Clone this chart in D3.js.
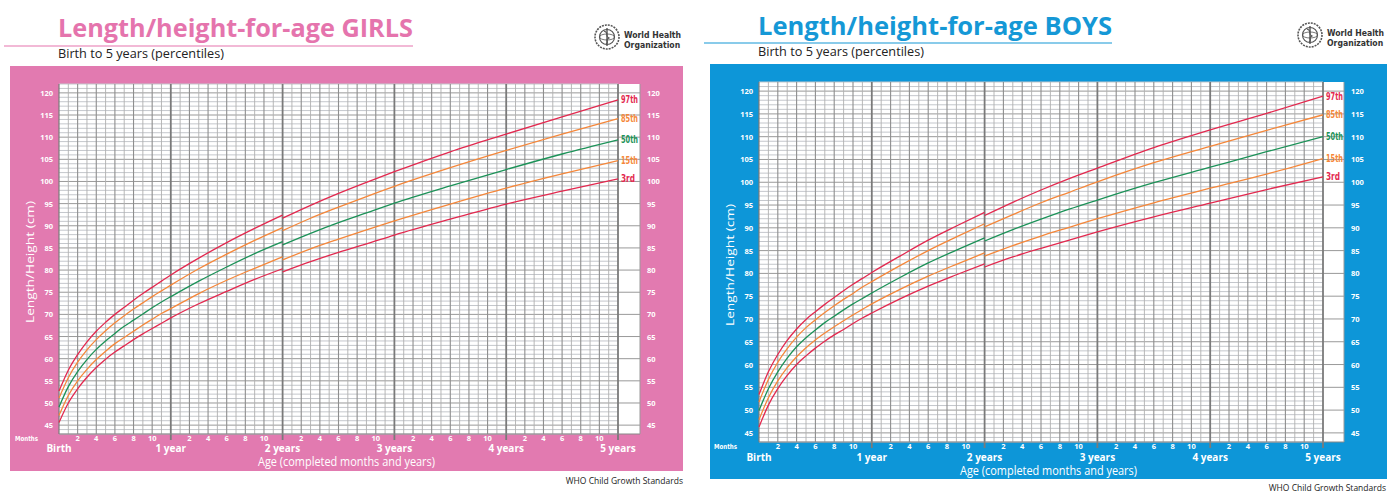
<!DOCTYPE html>
<html>
<head>
<meta charset="utf-8">
<title>Length/height-for-age</title>
<script src="https://d3js.org/d3.v7.min.js"></script>
<style>
  body { margin: 0; background: #fff; }
  svg { display: block; }
  text { font-family: "Open Sans", "Noto Sans", sans-serif; }
  .cond { font-family: "DejaVu Sans Condensed", "Liberation Sans Narrow", sans-serif; }
</style>
</head>
<body>
<div id="chart"></div>
<script>
// percentile names and year labels
const percentiles = ["3rd", "15th", "50th", "85th", "97th"];
const yearLabels = ["Birth", "1 year", "2 years", "3 years", "4 years", "5 years"];
const monthTicks = [2, 4, 6, 8, 10];
const cmTicks = [45, 50, 55, 60, 65, 70, 75, 80, 85, 90, 95, 100, 105, 110, 115, 120];

// ages (months): length 0-24, height 24-60
const lengthMonths = [0, 1, 2, 3, 4, 5, 6, 7, 8, 9, 10, 11, 12, 15, 18, 21, 24];
const heightMonths = [24, 27, 30, 33, 36, 42, 48, 54, 60];

// girls, columns = 3rd, 15th, 50th, 85th, 97th
const girlsLength = [
  [45.6, 47.2, 49.1, 51.1, 52.7], [50.0, 51.7, 53.7, 55.7, 57.4], [53.2, 55.0, 57.1, 59.2, 60.9],
  [55.8, 57.6, 59.8, 62.0, 63.8], [58.0, 59.8, 62.1, 64.3, 66.2], [59.9, 61.7, 64.0, 66.3, 68.2],
  [61.5, 63.4, 65.7, 68.1, 70.0], [62.9, 64.8, 67.3, 69.7, 71.6], [64.3, 66.2, 68.7, 71.2, 73.2],
  [65.6, 67.6, 70.1, 72.6, 74.7], [66.8, 68.9, 71.5, 74.0, 76.1], [68.0, 70.2, 72.8, 75.3, 77.5],
  [69.2, 71.3, 74.0, 76.6, 78.9], [72.4, 74.7, 77.5, 80.3, 82.7], [75.2, 77.7, 80.7, 83.6, 86.2],
  [77.9, 80.4, 83.7, 86.7, 89.4], [80.3, 83.0, 86.4, 89.6, 92.4]
];
const girlsHeight = [
  [79.6, 82.3, 85.7, 88.9, 91.7], [81.9, 84.8, 88.3, 91.7, 94.6], [84.0, 87.0, 90.7, 94.2, 97.3],
  [85.9, 89.1, 92.9, 96.6, 99.8], [87.9, 91.1, 95.1, 98.9, 102.2], [91.5, 94.9, 99.0, 103.1, 106.7],
  [94.9, 98.5, 102.7, 107.0, 110.7], [97.8, 101.7, 106.2, 110.7, 114.6], [100.6, 104.7, 109.4, 114.2, 118.4]
];

// boys
const boysLength = [
  [46.3, 47.9, 49.9, 51.8, 53.4], [51.1, 52.7, 54.7, 56.7, 58.4], [54.7, 56.4, 58.4, 60.5, 62.2],
  [57.6, 59.3, 61.4, 63.5, 65.3], [60.0, 61.7, 63.9, 66.0, 67.8], [61.9, 63.7, 65.9, 68.1, 69.9],
  [63.6, 65.4, 67.6, 69.8, 71.6], [65.1, 66.9, 69.2, 71.4, 73.2], [66.5, 68.3, 70.6, 72.9, 74.7],
  [67.7, 69.6, 72.0, 74.3, 76.2], [69.0, 70.9, 73.3, 75.6, 77.6], [70.2, 72.1, 74.5, 77.0, 78.9],
  [71.3, 73.3, 75.7, 78.2, 80.2], [74.4, 76.5, 79.1, 81.7, 83.8], [77.2, 79.4, 82.3, 85.0, 87.3],
  [79.7, 82.0, 85.1, 88.0, 90.4], [82.1, 84.5, 87.8, 90.9, 93.4]
];
const boysHeight = [
  [81.4, 83.8, 87.1, 90.2, 92.7], [83.6, 86.1, 89.6, 92.9, 95.6], [85.5, 88.2, 91.9, 95.5, 98.3],
  [87.3, 90.1, 94.1, 97.8, 100.8], [89.1, 92.0, 96.1, 100.1, 103.1], [92.4, 95.5, 99.9, 104.3, 107.6],
  [95.4, 98.7, 103.3, 107.9, 111.5], [98.4, 101.8, 106.7, 111.4, 115.1], [101.2, 105.2, 110.0, 114.8, 118.9]
];

const lineColors = ["#e3294f", "#f5873a", "#1c9258", "#f5873a", "#e3294f"];

const W = 1387, H = 493;
const svg = d3.select("#chart").append("svg").attr("width", W).attr("height", H);

const panels = [
  { title: "Length/height-for-age GIRLS", titleColor: "#e574ad", bg: "#e27ab0",
    lengthData: girlsLength, heightData: girlsHeight,
    band: [10, 66, 673, 405], plot: { x0: 59, x1: 618, xw: 640, y0: 84, y1: 434 },
    titleX: 58, titleY: 37, titleW: 355, ruleY: 46, ruleX: [4, 413], subY: 58,
    logo: [607, 37], monthY: 441, yearY: 452, ageY: 466, ageX: 258, yTitleX: 30,
    footer: [683, 484], monthsX: 15 },
  { title: "Length/height-for-age BOYS", titleColor: "#1598d6", bg: "#0d96d8",
    lengthData: boysLength, heightData: boysHeight,
    band: [710, 64, 677, 415], plot: { x0: 759, x1: 1323, xw: 1344, y0: 82, y1: 442 },
    titleX: 758, titleY: 35, titleW: 354, ruleY: 43, ruleX: [704, 1112], subY: 56,
    logo: [1310, 35], monthY: 449, yearY: 461, ageY: 475, ageX: 960, yTitleX: 730,
    footer: [1386, 491], monthsX: 714 }
];

panels.forEach(drawPanel);

function drawPanel(p) {
  const g = svg.append("g");
  const P = p.plot;
  const x = d3.scaleLinear().domain([0, 60]).range([P.x0, P.x1]);
  const y = d3.scaleLinear().domain([43, 122]).range([P.y1, P.y0]);

  // header
  g.append("text").attr("x", p.titleX).attr("y", p.titleY)
    .attr("font-size", 25).attr("font-weight", 700).attr("fill", p.titleColor)
    .attr("textLength", p.titleW).attr("lengthAdjust", "spacingAndGlyphs")
    .text(p.title);
  g.append("line").attr("x1", p.ruleX[0]).attr("x2", p.ruleX[1])
    .attr("y1", p.ruleY).attr("y2", p.ruleY)
    .attr("stroke", p.titleColor).attr("stroke-width", 1.2);
  g.append("text").attr("x", p.titleX).attr("y", p.subY)
    .attr("font-size", 12.5).attr("fill", "#222")
    .attr("textLength", 166).attr("lengthAdjust", "spacingAndGlyphs")
    .text("Birth to 5 years (percentiles)");

  // WHO emblem (simplified)
  const lg = g.append("g").attr("transform", `translate(${p.logo[0]},${p.logo[1]})`)
    .attr("fill", "none").attr("stroke", "#555");
  lg.append("circle").attr("r", 12).attr("stroke-width", 1.6).attr("stroke-dasharray", "2 1");
  lg.append("circle").attr("r", 7.5).attr("stroke-width", 1.2);
  lg.append("ellipse").attr("rx", 7.5).attr("ry", 3).attr("stroke-width", 0.8);
  lg.append("line").attr("y1", -9).attr("y2", 9).attr("stroke-width", 1.4);
  lg.append("path").attr("d", "M-3,-6 C3,-4 -3,-1 2,1 C-3,3 3,5 -1,7").attr("stroke-width", 1.1);
  g.append("text").attr("class", "cond").attr("x", p.logo[0] + 17).attr("y", p.logo[1] + 1)
    .attr("font-size", 8.6).attr("font-weight", 700).attr("fill", "#333").text("World Health");
  g.append("text").attr("class", "cond").attr("x", p.logo[0] + 17).attr("y", p.logo[1] + 11)
    .attr("font-size", 8.6).attr("font-weight", 700).attr("fill", "#333").text("Organization");

  // coloured band
  g.append("rect").attr("x", p.band[0]).attr("y", p.band[1])
    .attr("width", p.band[2]).attr("height", p.band[3]).attr("fill", p.bg);

  // white plot + label column
  g.append("rect").attr("x", P.x0).attr("y", P.y0)
    .attr("width", P.xw - P.x0).attr("height", P.y1 - P.y0).attr("fill", "#fff");

  // grid: cm lines
  const cms = d3.range(43, 123);
  g.append("g").selectAll("line").data(cms.filter(c => c % 5 !== 0)).join("line")
    .attr("x1", P.x0).attr("x2", P.x1).attr("y1", d => y(d)).attr("y2", d => y(d))
    .attr("stroke", "#c4c7cc").attr("stroke-width", 1);
  g.append("g").selectAll("line").data(cms.filter(c => c % 5 === 0)).join("line")
    .attr("x1", P.x0).attr("x2", P.xw).attr("y1", d => y(d)).attr("y2", d => y(d))
    .attr("stroke", "#999").attr("stroke-width", 1);

  // grid: month lines
  const months = d3.range(1, 60).filter(m => m % 12 !== 0);
  g.append("g").selectAll("line").data(months).join("line")
    .attr("x1", d => x(d)).attr("x2", d => x(d)).attr("y1", P.y0).attr("y2", P.y1)
    .attr("stroke", d => d % 2 === 0 ? "#8e8e8e" : "#b0b0b0")
    .attr("stroke-width", d => d % 2 === 0 ? 1.1 : 0.9);
  // year lines with ticks below
  g.append("g").selectAll("line").data([12, 24, 36, 48, 60]).join("line")
    .attr("x1", d => x(d)).attr("x2", d => x(d)).attr("y1", P.y0).attr("y2", P.y1 + 6)
    .attr("stroke", "#7a7a7a").attr("stroke-width", 1.8);
  g.append("line").attr("x1", P.x0).attr("x2", P.x0).attr("y1", P.y0).attr("y2", P.y1)
    .attr("stroke", "#7a7a7a").attr("stroke-width", 1.2);
  g.append("line").attr("x1", P.x0).attr("x2", P.xw).attr("y1", P.y1).attr("y2", P.y1)
    .attr("stroke", "#888").attr("stroke-width", 1.2);
  g.append("line").attr("x1", P.xw).attr("x2", P.xw).attr("y1", P.y0).attr("y2", P.y1)
    .attr("stroke", "#999").attr("stroke-width", 1);

  // curves
  const line = d3.line().curve(d3.curveMonotoneX);
  percentiles.forEach((name, k) => {
    const seg1 = lengthMonths.map((m, i) => [x(m), y(p.lengthData[i][k])]);
    const seg2 = heightMonths.map((m, i) => [x(m), y(p.heightData[i][k])]);
    [seg1, seg2].forEach(seg => {
      g.append("path").attr("d", line(seg)).attr("fill", "none")
        .attr("stroke", lineColors[k]).attr("stroke-width", 1.3);
    });
    const last = p.heightData[p.heightData.length - 1][k];
    g.append("text").attr("class", "cond").attr("x", P.x1 + 3).attr("y", y(last) + 3.5)
      .attr("font-size", 10).attr("font-weight", 700).attr("fill", lineColors[k])
      .attr("textLength", name === "3rd" ? 14 : 17).attr("lengthAdjust", "spacingAndGlyphs")
      .text(name);
  });

  // y tick labels, both sides
  const lab = g.append("g").attr("class", "cond").attr("font-size", 7.5)
    .attr("font-weight", 700).attr("fill", "#fff");
  lab.selectAll("text.l").data(cmTicks).join("text").attr("class", "l")
    .attr("x", P.x0 - 6).attr("y", d => y(d) + 3).attr("text-anchor", "end").text(d => d);
  lab.selectAll("text.r").data(cmTicks).join("text").attr("class", "r")
    .attr("x", P.xw + 7).attr("y", d => y(d) + 3).text(d => d);

  // y title
  g.append("text").attr("transform", `translate(${p.yTitleX + 4},${(P.y0 + P.y1) / 2 + 3}) rotate(-90)`)
    .attr("text-anchor", "middle").attr("font-size", 11).attr("fill", "#fff")
    .attr("textLength", 122).attr("lengthAdjust", "spacingAndGlyphs")
    .text("Length/Height (cm)");

  // x month labels
  g.append("text").attr("class", "cond").attr("x", p.monthsX).attr("y", p.monthY)
    .attr("font-size", 7).attr("font-weight", 700).attr("fill", "#fff")
    .attr("textLength", 23).attr("lengthAdjust", "spacingAndGlyphs").text("Months");
  const mt = [];
  d3.range(5).forEach(yr => monthTicks.forEach(m => mt.push({ v: yr * 12 + m, t: m })));
  g.append("g").attr("class", "cond").attr("font-size", 7.5).attr("font-weight", 700).attr("fill", "#fff")
    .selectAll("text").data(mt).join("text")
    .attr("x", d => x(d.v)).attr("y", p.monthY).attr("text-anchor", "middle").text(d => d.t);
  g.append("g").attr("font-size", 10).attr("font-weight", 700).attr("fill", "#fff")
    .selectAll("text").data(yearLabels).join("text")
    .attr("x", (d, i) => x(i * 12)).attr("y", p.yearY).attr("text-anchor", "middle").text(d => d);

  g.append("text").attr("x", p.ageX).attr("y", p.ageY)
    .attr("font-size", 12.5).attr("fill", "#fff")
    .attr("textLength", 177).attr("lengthAdjust", "spacingAndGlyphs")
    .text("Age (completed months and years)");

  g.append("text").attr("x", p.footer[0]).attr("y", p.footer[1]).attr("text-anchor", "end")
    .attr("font-size", 8.5).attr("fill", "#222").text("WHO Child Growth Standards");
}
</script>
</body>
</html>
